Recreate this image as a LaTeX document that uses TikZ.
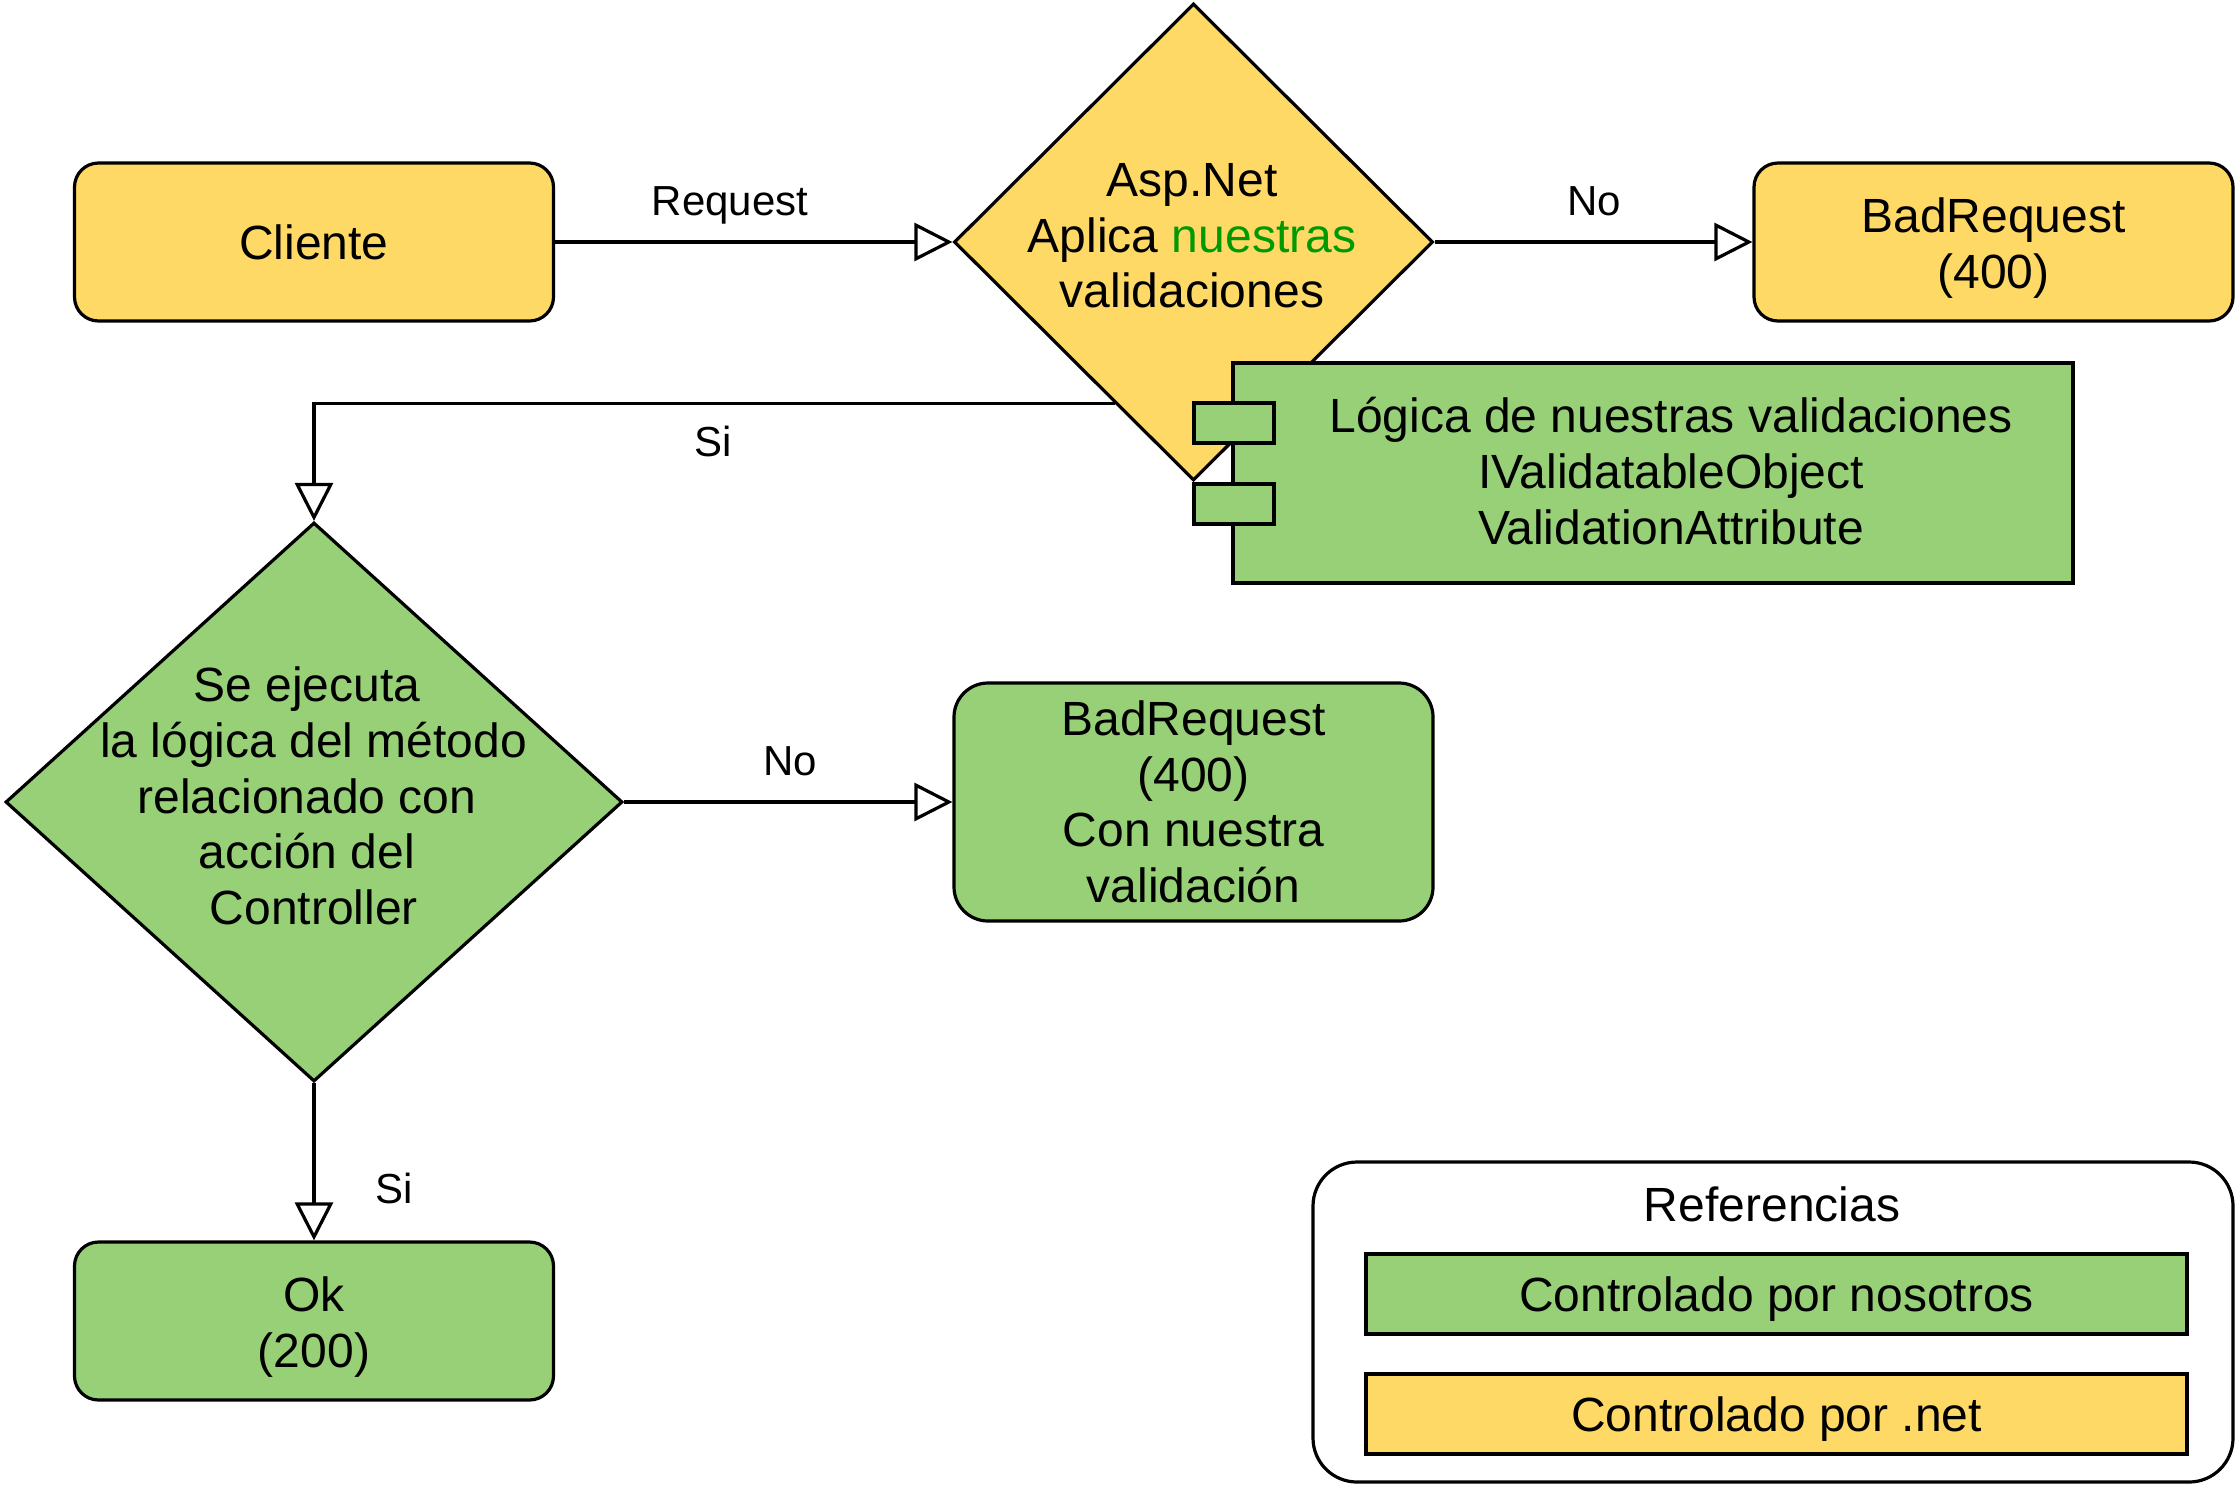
\documentclass[tikz,border=0pt]{standalone}
\usepackage{fontspec}
\setmainfont{Liberation Sans}
\usetikzlibrary{shapes.geometric,arrows.meta,calc}
\definecolor{yel}{HTML}{FFD966}
\definecolor{grn}{HTML}{97D077}
\definecolor{txtgreen}{HTML}{009900}
\begin{document}
\begin{tikzpicture}[x=0.5pt,y=-0.5pt,line width=1.6pt,
  boxfont/.style={font=\fontsize{24}{27.8}\selectfont},
  lblfont/.style={font=\fontsize{21}{25}\selectfont},
  rbox/.style={draw, rounded corners=12pt, minimum width=239.5pt, minimum height=79pt, inner sep=0pt},
  plainbox/.style={draw, minimum width=410.5pt, minimum height=40pt, inner sep=0pt},
  dia/.style={diamond, draw, inner sep=0pt},
  txt/.style={boxfont, align=center, inner sep=0pt},
  lbl/.style={lblfont, inner sep=0pt},
  arr/.style={-{Triangle[length=19pt,width=19pt,fill=white]}}
]
\useasboundingbox (0,0) rectangle (2236,1484);

% top row
\node[rbox, fill=yel] (cli) at (314,242) {};
\node[txt] (clit) at (314,242) {Cliente};
\node[dia, fill=yel, minimum width=239.5pt, minimum height=238.5pt] (d1) at (1193.5,242) {};
\node[txt] (d1t) at (1192,236) {Asp.Net\\Aplica \textcolor{txtgreen}{nuestras}\\validaciones};
\node[rbox, fill=yel] (br1) at (1993.5,242) {};
\node[txt] (br1t) at (1993.5,248) {BadRequest\\(400)};

% component
\node[draw, fill=grn, minimum width=420pt, minimum height=110pt, inner sep=0pt] (comp) at (1653,473) {};
\node[draw, fill=grn, minimum width=40pt, minimum height=20pt, inner sep=0pt] (p1) at (1234,423) {};
\node[draw, fill=grn, minimum width=40pt, minimum height=20pt, inner sep=0pt] (p2) at (1234,504) {};
\node[txt] (compt) at (1671,471) {Lógica de nuestras validaciones\\IValidatableObject\\ValidationAttribute};

% second decision
\node[dia, fill=grn, minimum width=308.5pt, minimum height=279.5pt] (d2) at (314,802) {};
\node[txt] (d2t) at (307,796) {Se ejecuta\\\hspace*{6.7pt}la lógica del método\\relacionado con\\acción del\\\hspace*{6.7pt}Controller};
\node[rbox, fill=grn, rounded corners=17pt, minimum height=119pt] (br2) at (1193.5,802) {};
\node[txt] (br2t) at (1193.5,802) {BadRequest\\(400)\\Con nuestra\\validación};
\node[rbox, fill=grn] (ok) at (314,1321) {};
\node[txt] (okt) at (314,1327) {Ok\\(200)};

% connectors
\draw[arr] (cli.east) -- (d1.west);
\node[lbl] (lreq) at (730,205) {Request};
\draw[arr] (d1.east) -- (br1.west);
\node[lbl] (lno1) at (1594,201) {No};
\coordinate (s1) at ($(d1.west)!0.674!(d1.south)$);
\draw[arr] (s1) -| (d2.north);
\node[lbl] (lsi1) at (713,441) {Si};
\draw[arr] (d2.east) -- (br2.west);
\node[lbl] (lno2) at (790,761) {No};
\draw[arr] (d2.south) -- (ok.north);
\node[lbl] (lsi2) at (394,1188) {Si};

% legend
\node[draw, rounded corners=22pt, minimum width=460pt, minimum height=160pt, inner sep=0pt] (leg) at (1773,1322) {};
\node[txt] (legt) at (1772,1204) {Referencias};
\node[plainbox, fill=grn] (lg1) at (1776.5,1294) {};
\node[txt] (lg1t) at (1776.5,1299) {Controlado por nosotros};
\node[plainbox, fill=yel] (lg2) at (1776.5,1414) {};
\node[txt] (lg2t) at (1776.5,1419) {Controlado por .net};
\end{tikzpicture}
\end{document}
